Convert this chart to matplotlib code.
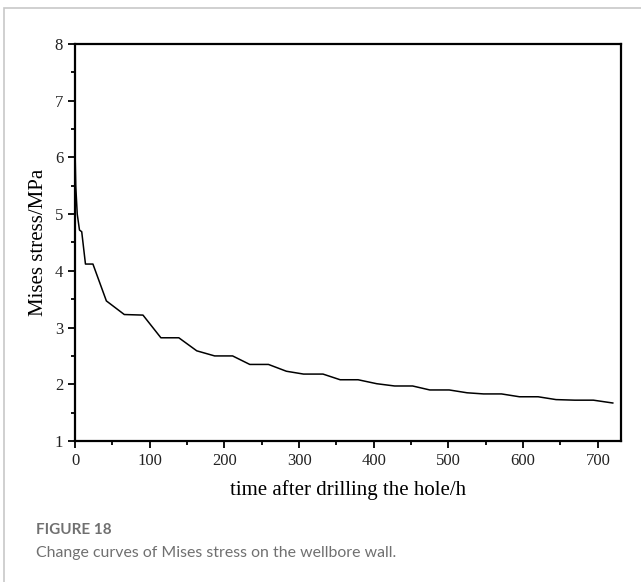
import matplotlib.pyplot as plt
from matplotlib.patches import Rectangle
from matplotlib.ticker import MultipleLocator

# time after drilling (h) and Mises stress (MPa)
time_h = [0, 1, 3, 6, 9, 14, 24, 42, 66, 91, 115, 139, 163, 187, 211, 234,
          259, 283, 306, 332, 355, 379, 404, 428, 452, 475, 501, 525, 547,
          571, 595, 620, 644, 669, 694, 720]
stress = [6.15, 5.5, 5.0, 4.72, 4.69, 4.12, 4.12, 3.47, 3.23, 3.22, 2.82,
          2.82, 2.59, 2.50, 2.50, 2.35, 2.35, 2.23, 2.18, 2.18, 2.08, 2.08,
          2.01, 1.97, 1.97, 1.90, 1.90, 1.85, 1.83, 1.83, 1.78, 1.78, 1.73,
          1.72, 1.72, 1.67]

fig = plt.figure(figsize=(6.41, 5.82), dpi=100)
ax = fig.add_axes([75 / 641, 1 - 441 / 582, (621 - 75) / 641, (441 - 44) / 582])

ax.plot(time_h, stress, color='black', linewidth=1.1)

ax.set_xlim(0, 731)
ax.set_ylim(1, 8)
ax.xaxis.set_major_locator(MultipleLocator(100))
ax.xaxis.set_minor_locator(MultipleLocator(50))
ax.yaxis.set_major_locator(MultipleLocator(1))
ax.yaxis.set_minor_locator(MultipleLocator(0.5))
ax.tick_params(which='both', direction='out', top=False, right=False,
               width=1.3, labelsize=12, labelcolor='#222222')
ax.tick_params(which='major', length=5)
ax.tick_params(which='minor', length=3)
for s in ax.spines.values():
    s.set_linewidth(1.6)
for lab in ax.get_xticklabels() + ax.get_yticklabels():
    lab.set_family('Liberation Serif')

ax.set_xlabel('time after drilling the hole/h', family='Liberation Serif',
              fontsize=15, labelpad=8)
ax.set_ylabel('Mises stress/MPa', family='Liberation Serif',
              fontsize=15, labelpad=5)

# page frame and caption
fig.patches.append(Rectangle((4 / 641, -0.1), 1.2, 1 - 8 / 582 + 0.1,
                             transform=fig.transFigure, fill=False,
                             edgecolor='#c8c8c8', linewidth=1.2))
fig.text(36 / 641, 1 - 534 / 582, 'FIGURE 18', family='Lato',
         fontweight='bold', fontsize=11, color='#707070', va='baseline')
fig.text(36 / 641, 1 - 557 / 582,
         'Change curves of Mises stress on the wellbore wall.',
         family='Lato', fontsize=11.4, color='#707070', va='baseline')

fig.savefig('out.png', dpi=100)
